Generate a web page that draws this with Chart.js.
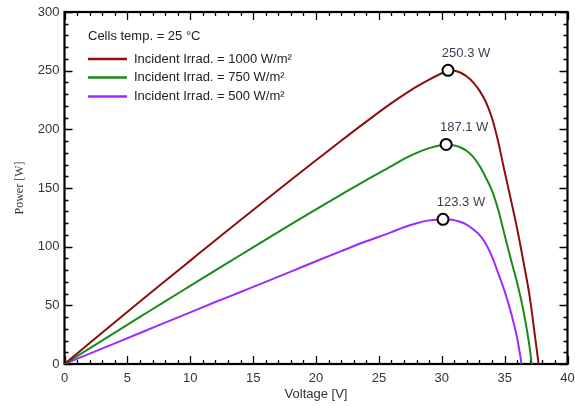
<!DOCTYPE html>
<html><head><meta charset="utf-8">
<script src="https://cdn.jsdelivr.net/npm/chart.js@4.4.1/dist/chart.umd.min.js"></script>
<style>html,body{margin:0;padding:0;background:#fff}</style>
</head><body>
<canvas id="c" width="575" height="406"></canvas>
<script>
// ---- data ----
const legendTitle = 'Cells temp. = 25 °C';
const seriesLabels = ['Incident Irrad. = 1000 W/m²', 'Incident Irrad. = 750 W/m²', 'Incident Irrad. = 500 W/m²'];

const voltsRed = [0,2,4,6,8,10,12,14,16,18,20,22,24,26,27,28,29,30,30.5,31,31.5,32,32.5,33,33.5,34,34.5,35,35.5,36,36.5,37,37.4,37.7];
const powerRed = [0,17.9,35.6,53.2,70.7,88.1,105.5,122.7,139.8,156.8,173.6,190.3,206.6,222.3,229.6,236.4,242.4,247.8,250.3,249.9,248.2,245,240,233,223.5,209.5,189,164,140,115,87,57,25,0];

const voltsGreen = [0,2,4,6,8,10,12,14,16,18,20,22,24,26,27,28,29,30,30.35,31,31.5,32,32.5,33,33.5,34,34.5,35,35.5,36,36.5,37,37.15];
const powerGreen = [0,13.4,26.8,40.1,53.4,66.6,79.8,92.9,106,119,131.8,144.4,156.8,168.6,174.8,180,184,186.6,187.1,186.2,184.5,181.5,176.5,169,159,147.5,131,110,89,69,45,13.4,0];

const voltsPurple = [0,2,4,6,8,10,12,14,16,18,20,22,24,26,27,28,29,30,30.1,30.8,31.5,32,32.5,33,33.5,34,34.5,35,35.5,36,36.35];
const powerPurple = [0,8.8,17.6,26.4,35.2,44,52.8,61.4,70,78.7,87.6,96.2,104.6,112.4,116.6,120,122.4,123.2,123.3,122.9,121,118.6,114.8,110,102.5,91.5,77,62,44,22,0];

const peakVolts = [30.5, 30.35, 30.1];
const peakPower = [250.3, 187.1, 123.3];
const peakLabels = ['250.3 W', '187.1 W', '123.3 W'];

const xTickStep = 5, yTickStep = 50;
const xTitle = 'Voltage [V]', yTitle = 'Power [W]';

// ---- styling ----
const colors = ['#8c0f0f', '#1a8a1a', '#9a2cff'];
const SANS = '"Liberation Sans", Arial, sans-serif';
const SERIF = '"Liberation Serif", "Times New Roman", serif';
const TXT = '#33333f';

const pairs = (xs, ys) => xs.map((x, i) => ({x, y: ys[i]}));
const seriesData = [pairs(voltsRed, powerRed), pairs(voltsGreen, powerGreen), pairs(voltsPurple, powerPurple)];

const datasets = seriesData.map((d, i) => ({
  label: seriesLabels[i], data: d, borderColor: colors[i], borderWidth: 2,
  pointRadius: 0, fill: false, cubicInterpolationMode: 'monotone', order: 2
}));
datasets.push({
  label: 'peaks', data: pairs(peakVolts, peakPower), showLine: false,
  pointRadius: 5.5, pointBorderWidth: 2, pointBorderColor: '#000', pointBackgroundColor: '#fff', order: 1
});

const framePlugin = {
  id: 'frame',
  beforeDatasetsDraw(chart) {
    const {ctx, chartArea: a, scales: {x, y}} = chart;
    ctx.save();
    ctx.strokeStyle = '#000';
    ctx.lineWidth = 1.3;
    ctx.beginPath();
    for (let v = 0; v <= 40; v += 1) {
      const px = Math.round(x.getPixelForValue(v)) + 0.5;
      const len = (v % xTickStep === 0) ? 8 : 4;
      ctx.moveTo(px, a.bottom); ctx.lineTo(px, a.bottom - len);
      ctx.moveTo(px, a.top); ctx.lineTo(px, a.top + len);
    }
    for (let v = 0; v <= 300; v += 10) {
      const py = Math.round(y.getPixelForValue(v)) + 0.5;
      const len = (v % yTickStep === 0) ? 8 : 4;
      ctx.moveTo(a.left, py); ctx.lineTo(a.left + len, py);
      ctx.moveTo(a.right, py); ctx.lineTo(a.right - len, py);
    }
    ctx.stroke();
    ctx.lineWidth = 2.2;
    ctx.strokeRect(a.left, a.top, a.right - a.left, a.bottom - a.top);
    ctx.restore();
  },
  afterDatasetsDraw(chart) {
    const {ctx, scales: {x, y}} = chart;
    ctx.save();
    ctx.font = '13px ' + SANS;
    ctx.fillStyle = '#3d3d50';
    ctx.textAlign = 'center';
    ctx.textBaseline = 'middle';
    peakLabels.forEach((t, i) => {
      ctx.fillText(t, x.getPixelForValue(peakVolts[i]) + 18, y.getPixelForValue(peakPower[i]) - 17);
    });
    ctx.textAlign = 'left';
    ctx.fillStyle = '#222';
    ctx.fillText(legendTitle, 88, 36);
    const rows = [59, 77.5, 96.5];
    seriesLabels.forEach((t, i) => {
      ctx.strokeStyle = colors[i];
      ctx.lineWidth = 2.5;
      ctx.beginPath(); ctx.moveTo(88, rows[i]); ctx.lineTo(127, rows[i]); ctx.stroke();
      ctx.fillText(t, 134, rows[i]);
    });
    ctx.restore();
  }
};

new Chart(document.getElementById('c'), {
  type: 'line',
  data: {datasets},
  plugins: [framePlugin],
  options: {
    responsive: false, animation: false, devicePixelRatio: 1,
    layout: {padding: {top: 12, right: 7.5, left: 0, bottom: 0}},
    plugins: {legend: {display: false}, tooltip: {enabled: false}},
    scales: {
      x: {
        type: 'linear', min: 0, max: 40,
        afterFit: s => { s.height = 42; s.paddingLeft = 0; s.paddingRight = 0; },
        ticks: {stepSize: xTickStep, font: {family: SANS, size: 13}, color: TXT, padding: 7, maxRotation: 0},
        grid: {display: false, drawTicks: false}, border: {display: false},
        title: {display: true, text: xTitle, font: {family: SANS, size: 13}, color: TXT, padding: {top: 0, bottom: 3.5}}
      },
      y: {
        type: 'linear', min: 0, max: 300,
        afterFit: s => { s.width = 64.5; s.paddingTop = 0; s.paddingBottom = 0; },
        ticks: {stepSize: yTickStep, font: {family: SANS, size: 13}, color: TXT, padding: 5},
        grid: {display: false, drawTicks: false}, border: {display: false},
        title: {display: true, text: yTitle, font: {family: SERIF, size: 12}, color: TXT, padding: {top: 12.5, bottom: 0}}
      }
    }
  }
});
</script>
</body></html>
